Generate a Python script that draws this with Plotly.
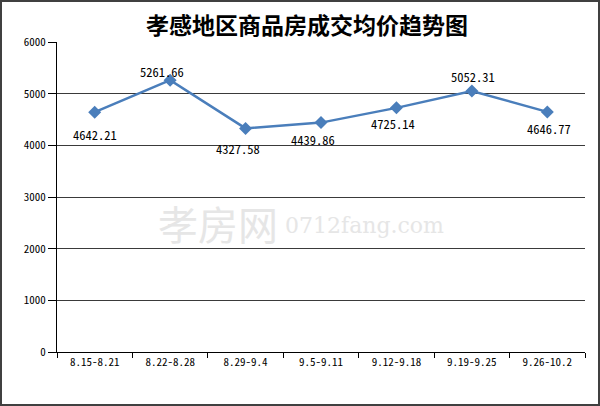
import plotly.graph_objects as go

categories = ["8.15-8.21", "8.22-8.28", "8.29-9.4", "9.5-9.11", "9.12-9.18", "9.19-9.25", "9.26-10.2"]
prices = [4642.21, 5261.66, 4327.58, 4439.86, 4725.14, 5052.31, 4646.77]
title_text = "孝感地区商品房成交均价趋势图"
y_ticks = [0, 1000, 2000, 3000, 4000, 5000, 6000]
watermark_cn = "孝房网"
watermark_en = "0712fang.com"

# label offsets in pixels (style, not data)
label_dx = [0, -8, -8, -8, -3, 1, 2]
label_dy = [-22, 9, -20, -17, -16, 14, -17]

W, H = 600, 406
L, R, T, B = 57, 15, 42, 54
PW, PH = W - L - R, H - T - B

mono = "'Noto Sans Mono CJK SC', 'DejaVu Sans Mono', monospace"

fig = go.Figure()
fig.add_trace(go.Scatter(
    x=categories, y=prices,
    mode="lines+markers",
    line=dict(color="#4a7ebb", width=2.5),
    marker=dict(symbol="diamond", size=10, color="#4a7ebb"),
    cliponaxis=False,
    hoverinfo="x+y",
))

def px_x(px):
    return (px - L) / PW

def px_y(py):
    return (H - B - py) / PH

annotations = []
for c, v, dx, dy in zip(categories, prices, label_dx, label_dy):
    annotations.append(dict(
        x=c, y=v, xref="x", yref="y", text=f"{v:.2f}", showarrow=False,
        xanchor="center", yanchor="middle", xshift=dx, yshift=dy,
        font=dict(family=mono, size=12.5, color="#000000"),
    ))

annotations += [
    dict(text=watermark_cn, xref="paper", yref="paper", x=px_x(156), y=px_y(223),
         xanchor="left", yanchor="middle", showarrow=False,
         font=dict(family="'Noto Sans CJK SC', sans-serif", size=40, color="#e6e6e6")),
    dict(text=watermark_en, xref="paper", yref="paper", x=px_x(283), y=px_y(225),
         xanchor="left", yanchor="middle", showarrow=False,
         font=dict(family="'DejaVu Serif', serif", size=22, color="#e6e6e6")),
]

fig.update_layout(
    width=W, height=H,
    margin=dict(l=L, r=R, t=T, b=B),
    paper_bgcolor="white", plot_bgcolor="white",
    showlegend=False,
    title=dict(text="<b>" + title_text + "</b>", x=307 / W, xanchor="center", xref="container",
               y=1 - 26 / H, yanchor="middle", yref="container",
               font=dict(family="'Noto Sans CJK SC', sans-serif", size=23, color="#000000")),
    xaxis=dict(
        type="category", showgrid=False, showline=True, linecolor="#000000", linewidth=1,
        ticks="outside", tickson="boundaries", ticklen=5, tickcolor="#000000",
        tickfont=dict(family=mono, size=11, color="#000000"),
        range=[-0.5, 6.5],
    ),
    yaxis=dict(
        range=[0, 6000], tickvals=y_ticks, showgrid=True, gridcolor="#3a3a3a", gridwidth=1,
        showline=True, linecolor="#000000", linewidth=1, zeroline=False,
        ticks="outside", ticklen=8, tickcolor="#000000",
        tickfont=dict(family=mono, size=11, color="#000000"),
    ),
    shapes=[dict(type="rect", xref="paper", yref="paper",
                 x0=px_x(1), x1=px_x(599), y0=px_y(405), y1=px_y(1),
                 line=dict(color="#404040", width=2), layer="below")],
    annotations=annotations,
)

fig.write_html("out.html", config={"displayModeBar": False},
               post_script="document.body.style.margin='0';document.body.style.padding='0';")
